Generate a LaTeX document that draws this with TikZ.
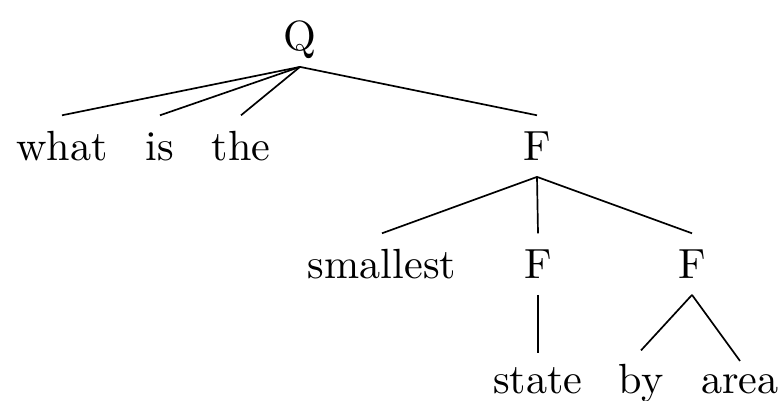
\documentclass[tikz,border=0pt]{standalone}
\begin{document}
\begin{tikzpicture}[x=0.237pt,y=-0.237pt,
  w/.style={anchor=base,inner sep=0pt,text height=10.4pt,text depth=3.8pt},
  edge/.style={draw,line width=0.4pt}]
\useasboundingbox (0,0) rectangle (782,400);
\node[w] (Q) at (300,50) {Q};
\node[w] (what) at (62,160) {what};
\node[w] (is) at (160,160) {is};
\node[w] (the) at (241,160) {the};
\node[w] (F1) at (537,160) {F};
\node[w] (smallest) at (382,278) {smallest};
\node[w] (F2) at (538,278) {F};
\node[w] (F3) at (692,278) {F};
\node[w] (state) at (538,393) {state};
\node[w] (by) at (641,393) {by};
\node[w] (area) at (740,393) {area};
\coordinate (areatop) at ([yshift=-3pt]area.north);
\path[edge] (Q.south) -- (what.north);
\path[edge] (Q.south) -- (is.north);
\path[edge] (Q.south) -- (the.north);
\path[edge] (Q.south) -- (F1.north);
\path[edge] (F1.south) -- (smallest.north);
\path[edge] (F1.south) -- (F2.north);
\path[edge] (F1.south) -- (F3.north);
\path[edge] (F2.south) -- ([yshift=-1pt]state.north);
\path[edge] (F3.south) -- ([yshift=-0.5pt]by.north);
\path[edge] (F3.south) -- (areatop);
\end{tikzpicture}
\end{document}
